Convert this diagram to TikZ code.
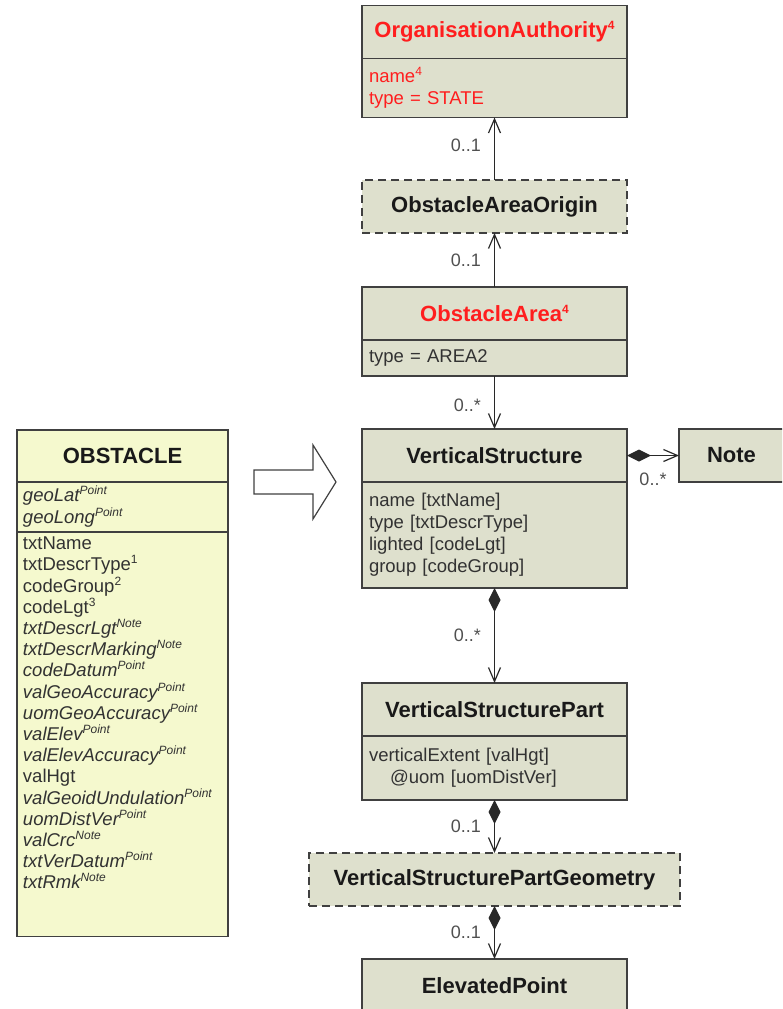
\documentclass[tikz,border=0pt]{standalone}
\usepackage{fontspec}
\setmainfont{Liberation Sans}
\usepackage{xcolor}
\usetikzlibrary{positioning,arrows.meta}

\definecolor{clsfill}{RGB}{222,224,205}
\definecolor{obsfill}{RGB}{245,249,206}
\definecolor{boxline}{RGB}{64,64,64}
\definecolor{linegray}{RGB}{40,40,40}
\definecolor{titletext}{RGB}{25,25,25}
\definecolor{attrtext}{RGB}{50,50,50}
\definecolor{umlred}{RGB}{255,30,30}
\definecolor{multgray}{RGB}{80,80,80}

\newcommand{\upnote}[1]{\raisebox{0.38em}{\fontsize{12}{12}\selectfont #1}}

\tikzset{
  clstitle/.style={draw=boxline, fill=clsfill, line width=1.4pt, outer sep=0pt,
    minimum width=265pt, minimum height=53pt, text=titletext,
    font=\fontsize{22}{26}\selectfont\bfseries},
  clsattr/.style={draw=boxline, fill=clsfill, line width=1.4pt, outer sep=0pt,
    text width=251pt, inner xsep=7pt, align=left, text=attrtext,
    font=\fontsize{18.5}{22}\selectfont},
  dashedbox/.style={dash pattern=on 8pt off 5pt},
  obsbox/.style={fill=obsfill, minimum width=211pt, text width=199pt, inner xsep=6pt},
  assoc/.style={-{Straight Barb[length=14pt,width=12pt]}, line width=1.2pt, draw=linegray},
  comp/.style={{Diamond[length=24pt,width=12pt]}-{Straight Barb[length=14pt,width=12pt]},
    line width=1.2pt, draw=linegray},
  mult/.style={text=multgray, font=\fontsize{18}{20}\selectfont, inner sep=3pt}
}

\begin{document}
\begin{tikzpicture}[x=1pt, y=-1pt]
    \useasboundingbox (0,0) rectangle (782,1009);
    \clip (0,0) rectangle (782,1009);

    % AIXM classes
    \node[clstitle, text=umlred] (orgT) at (494.5,32) {OrganisationAuthority\upnote{4}};
    \node[clsattr, text=umlred, minimum height=59pt, below=0pt of orgT] (orgA) {name\upnote{4}\\type = STATE};
    \node[clstitle, dashedbox] (originT) at (494.5,206.5) {ObstacleAreaOrigin};
    \node[clstitle, text=umlred] (areaT) at (494.5,313.5) {ObstacleArea\upnote{4}};
    \node[clsattr, minimum height=36pt, below=0pt of areaT] (areaA) {type = AREA2};
    \node[clstitle] (vsT) at (494.5,455.5) {VerticalStructure};
    \node[clsattr, minimum height=106pt, below=0pt of vsT] (vsA) {name [txtName]\\type [txtDescrType]\\lighted [codeLgt]\\group [codeGroup]};
    \node[clstitle, minimum width=140pt, inner xsep=28pt, text width=84pt, align=left] (noteT) at (749,455.5) {Note};
    \node[clstitle] (vspT) at (494.5,709.5) {VerticalStructurePart};
    \node[clsattr, minimum height=64pt, below=0pt of vspT] (vspA) {verticalExtent [valHgt]\\\hspace*{21pt}@uom [uomDistVer]};
    \node[clstitle, dashedbox, minimum width=371pt] (geomT) at (494.5,879.5) {VerticalStructurePartGeometry};
    \node[clstitle] (pointT) at (494.5,985.5) {ElevatedPoint};

    % AIXM 4.5 feature
    \node[clstitle, fill=obsfill, minimum width=211pt, minimum height=52pt] (obsT) at (122.5,456) {OBSTACLE};
    \node[clsattr, obsbox, minimum height=50pt, below=0pt of obsT] (obsGeo) {\textit{geoLat\upnote{Point}}\\\textit{geoLong\upnote{Point}}};
    \node[clsattr, obsbox, inner ysep=5pt, text depth=382pt, font=\fontsize{18.5}{21.2}\selectfont, below=0pt of obsGeo] (obsList) {txtName\\
        txtDescrType\upnote{1}\\
        codeGroup\upnote{2}\\
        codeLgt\upnote{3}\\
        \textit{txtDescrLgt\upnote{Note}}\\
        \textit{txtDescrMarking\upnote{Note}}\\
        \textit{codeDatum\upnote{Point}}\\
        \textit{valGeoAccuracy\upnote{Point}}\\
        \textit{uomGeoAccuracy\upnote{Point}}\\
        \textit{valElev\upnote{Point}}\\
        \textit{valElevAccuracy\upnote{Point}}\\
        valHgt\\
        \textit{valGeoidUndulation\upnote{Point}}\\
        \textit{uomDistVer\upnote{Point}}\\
        \textit{valCrc\upnote{Note}}\\
        \textit{txtVerDatum\upnote{Point}}\\
        \textit{txtRmk\upnote{Note}}};

    % mapping arrow
    \draw[line width=1.2pt, draw=boxline, fill=white] (254,470) -- (313,470) -- (313,445) -- (336,482) -- (313,519) -- (313,494) -- (254,494) -- cycle;

    % associations
    \draw[assoc] (originT.north) -- node[mult, left=10pt, pos=0.55] {0..1} (orgA.south);
    \draw[assoc] (areaT.north) -- node[mult, left=10pt] {0..1} (originT.south);
    \draw[assoc] (areaA.south) -- node[mult, left=10pt, pos=0.55] {0..*} (vsT.north);
    \draw[comp] (vsT.east) -- node[mult, below=14pt, pos=0.5] {0..*} (noteT.west);
    \draw[comp] (vsA.south) -- node[mult, left=10pt] {0..*} (vspT.north);
    \draw[comp] (vspA.south) -- node[mult, left=10pt] {0..1} (geomT.north);
    \draw[comp] (geomT.south) -- node[mult, left=10pt] {0..1} (pointT.north);
\end{tikzpicture}
\end{document}
